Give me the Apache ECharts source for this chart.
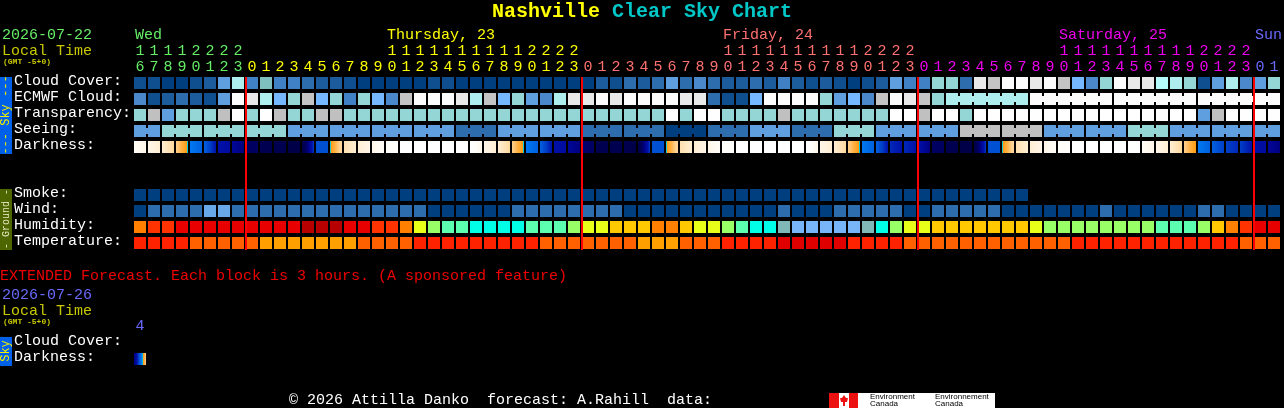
<!DOCTYPE html>
<html><head><meta charset="utf-8">
<style>html,body{margin:0;padding:0;background:#000}#c{width:1284px;height:408px}</style>
<script src="https://cdn.jsdelivr.net/npm/echarts@6/dist/echarts.min.js"></script>
</head><body><div id="c"></div>
<script>
const hours=[16,17,18,19,20,21,22,23,0,1,2,3,4,5,6,7,8,9,10,11,12,13,14,15,16,17,18,19,20,21,22,23,0,1,2,3,4,5,6,7,8,9,10,11,12,13,14,15,16,17,18,19,20,21,22,23,0,1,2,3,4,5,6,7,8,9,10,11,12,13,14,15,16,17,18,19,20,21,22,23,0,1];
const rowNames=['Cloud Cover:','ECMWF Cloud:','Transparency:','Seeing:','Darkness:','','','Smoke:','Wind:','Humidity:','Temperature:'];
const extRowNames=['Cloud Cover:','Darkness:'];
const extHours=[4];
const dayLabels=[[0,'Wed',0],[18,'Thursday, 23',1],[42,'Friday, 24',2],[66,'Saturday, 25',3],[80,'Sun',4]];
const midnightCols=[8,32,56,80];
const cloudCover=[5,5,0,0,5,10,30,60,20,40,20,20,15,10,10,5,0,0,0,0,0,5,5,0,0,0,0,0,0,0,0,0,0,10,5,15,10,15,30,15,25,15,10,10,15,10,20,10,5,10,5,0,5,10,30,20,20,50,50,15,80,70,100,100,80,100,70,35,25,50,100,80,80,65,60,50,5,30,60,25,30,50];
const ecmwfCloud=[25,5,10,15,10,5,30,100,80,60,35,50,70,35,50,20,50,35,25,70,100,100,100,80,60,70,35,50,30,25,60,80,80,100,80,100,100,100,100,80,80,15,5,5,35,100,100,100,100,50,30,35,25,70,100,80,70,50,60,60,60,60,60,60,100,100,100,100,100,100,100,100,100,100,100,100,100,100,100,100,100,100];
const ecmwfBlocks=[1,1,1,1,1,1,1,1,1,1,1,1,1,1,1,1,1,1,1,1,1,1,1,1,1,1,1,1,1,1,1,1,1,1,1,1,1,1,1,1,1,1,1,1,1,1,1,1,1,1,1,1,1,1,1,1,1,1,6,6,6,6];
const transparency=[2,1,3,2,2,2,1,0,2,0,1,2,2,1,1,2,2,2,2,2,2,2,2,2,2,2,2,2,2,2,2,2,2,2,2,2,2,2,0,2,0,0,2,2,2,2,1,2,2,2,2,2,2,2,0,0,1,0,0,2,0,0,0,0,0,0,0,0,0,0,0,0,0,0,0,0,3,1,0,0,0,0];
const seeing=[3,3,2,2,2,2,2,2,2,2,2,3,3,3,3,3,3,3,3,3,3,3,3,4,4,4,3,3,3,3,3,3,4,4,4,4,4,4,5,5,5,4,4,4,3,3,3,4,4,4,2,2,2,3,3,3,3,3,3,1,1,1,1,1,1,3,3,3,3,3,3,2,2,2,3,3,3,3,3,3,3,3];
const seeingBlocks=[2,3,3,3,3,3,3,3,3,3,3,3,3,3,3,3,3,3,3,3,3,3,3,3,3,3,3,2];
const darkStart=[1,2,3,5,8,9,11,12,14,15,15,16,16,9.5,7,4,3,2,1,0,0,0,0,0,0,2,3,5,8,9,11,12,13.5,15,15,15,16,9.5,7,4,3,2,1,0,0,0,0,0,0,2,3,5,8,9,10.5,10.5,11,14,15,16,16,9.5,7,4,3,2,1,0,0,0,0,0,1,2,3,5,8,9,10,10,11,12];
const darkEnd=[2,3,4.5,7,9,11,11.5,13,14,15,15,16,10,9.5,4.5,3,2,1,0.5,0,0,0,0,0,2,3,4.5,7,9,11,11.5,13,14,15,15,16,10,9.5,4.5,3,2,1,0.5,0,0,0,0,0,2,3,4.5,7,9,11,11,11,13,14,15,16,10,9.5,4.5,3,2,1,0.5,0,0,0,0,0,2,3,4.5,6.85,9,10,10.5,11,11.5,13];
const smoke=[0,0,0,0,0,0,0,0,0,0,0,0,0,0,0,0,0,0,0,0,0,0,0,0,0,0,0,0,0,0,0,0,0,0,0,0,0,0,0,0,0,0,0,0,0,0,0,0,0,0,0,0,0,0,0,0,0,0,0,0,0,0,0,0];
const wind=[3,8,8,8,8,14,14,8,8,8,8,8,8,8,8,8,8,8,8,8,8,3,3,3,3,3,3,8,8,8,8,8,8,8,8,3,3,3,3,3,3,3,3,3,3,3,8,3,3,3,8,8,8,8,8,3,3,8,8,8,8,8,3,3,3,3,3,3,3,8,3,3,3,3,3,3,8,8,3,3,3,3];
const humidity=[65,70,70,80,80,80,80,80,80,80,80,80,90,90,90,80,80,70,70,65,55,50,45,45,40,40,40,40,45,45,45,50,55,55,60,60,60,65,65,60,55,55,50,45,40,40,35,30,30,30,30,30,35,40,50,55,55,60,60,60,60,60,60,60,55,50,50,50,50,50,50,50,50,45,45,45,50,60,65,70,80,80];
const temperature=[31,31,31,31,27,27,27,27,27,24,24,24,24,24,24,24,27,27,27,27,31,31,31,31,31,31,31,31,31,27,27,27,27,27,27,27,24,24,24,27,27,27,31,31,31,31,35,35,35,35,35,31,31,31,31,27,27,27,27,27,27,27,27,27,27,27,27,31,31,31,31,31,31,31,31,31,31,31,31,27,27,27];
const extDarkStart=[13];
const extDarkEnd=[5];

const cloudColors={0:'#003f7f',5:'#0f4f8f',10:'#1c5c9c',15:'#2d6cad',20:'#4080c4',25:'#4a88cb',30:'#5f9fe0',35:'#75b8ff',40:'#7fbfbf',50:'#94d5d5',60:'#aeeeee',65:'#b4fafa',70:'#c4c4c4',80:'#e9e9e9',100:'#fcfcfc'};
const skyColors={0:'#fefefe',1:'#c0c0c0',2:'#94d5d5',3:'#5f9fe0',4:'#2d6cad',5:'#003f7f'};
const windColors={3:'#003f7f',8:'#2d6cad',14:'#68a8e8'};
const humidColors={30:'#78b4f8',35:'#80b8b8',40:'#00ffe6',45:'#5cffb0',50:'#99ff66',55:'#e8ff1a',60:'#ffc800',65:'#ff8000',70:'#ff3300',80:'#e80000',90:'#b80000'};
const tempColors={24:'#ffa000',27:'#ff6000',31:'#ff2200',35:'#e00000'};
const darkScale=[[0,'#ffffff'],[1,'#fffdf8'],[2,'#fff6e8'],[3,'#ffeed4'],[4,'#ffe0b0'],[5,'#ffd090'],[6,'#ffb040'],[6.85,'#ff9c10'],[6.9,'#00c8e0'],[7,'#00c8e0'],[8,'#0078f0'],[9,'#0060e0'],[10,'#0040c8'],[11,'#0010a8'],[12,'#000898'],[13,'#000080'],[14,'#000060'],[15,'#000050'],[16,'#000048']];
const dayColors=['#66ee66','#ffff00','#ff7070','#ee00ee','#6a6aff'];
const MONO='"Liberation Mono",monospace';

function darkAt(v){
  for(let i=0;i<darkScale.length-1;i++){
    const a=darkScale[i],b=darkScale[i+1];
    if(v>=a[0]&&v<=b[0])return echarts.color.lerp((v-a[0])/(b[0]-a[0]),[a[1],b[1]]);
  }
  return darkScale[darkScale.length-1][1];
}
function darkFill(l,r){
  if(l===r)return darkAt(l);
  const lo=Math.min(l,r),hi=Math.max(l,r);
  const vals=[lo,...darkScale.map(s=>s[0]).filter(v=>v>lo&&v<hi),hi];
  const stops=vals.map(v=>({offset:(v-l)/(r-l),color:darkAt(v)})).sort((a,b)=>a.offset-b.offset);
  return new echarts.graphic.LinearGradient(0,0,1,0,stops);
}
function joinsFrom(blocks){
  const out=[];
  blocks.forEach(n=>{for(let i=0;i<n;i++)out.push(i<n-1);});
  return out;
}
function cellSeries(row,values,colorOf,joins,xi,yi){
  return {
    type:'custom',xAxisIndex:xi||0,yAxisIndex:yi||0,silent:true,clip:false,z:2,
    data:values.map((v,i)=>[i,row,i]),
    renderItem(p,api){
      const i=api.value(2),c=api.coord([api.value(0),api.value(1)]);
      const kids=[{type:'rect',shape:{x:c[0]-6,y:c[1]-6,width:12,height:12},style:{fill:colorOf(i)}}];
      if(joins&&joins[i])kids.push({type:'rect',shape:{x:c[0]+6,y:c[1]-3,width:2,height:6},style:{fill:colorOf(i)}});
      return {type:'group',children:kids};
    }
  };
}
const series=[
  cellSeries(0,cloudCover,i=>cloudColors[cloudCover[i]]),
  cellSeries(1,ecmwfCloud,i=>cloudColors[ecmwfCloud[i]],joinsFrom(ecmwfBlocks)),
  cellSeries(2,transparency,i=>skyColors[transparency[i]]),
  cellSeries(3,seeing,i=>skyColors[seeing[i]],joinsFrom(seeingBlocks)),
  cellSeries(4,darkStart,i=>darkFill(darkStart[i],darkEnd[i])),
  cellSeries(7,smoke,i=>'#003f7f'),
  cellSeries(8,wind,i=>windColors[wind[i]]),
  cellSeries(9,humidity,i=>humidColors[humidity[i]]),
  cellSeries(10,temperature,i=>tempColors[temperature[i]]),
  cellSeries(1,extDarkStart,i=>darkFill(extDarkStart[i],extDarkEnd[i]),null,2,1),
  {type:'custom',xAxisIndex:0,yAxisIndex:0,silent:true,clip:false,z:5,
   data:midnightCols.map(c=>[c,0]),
   renderItem(p,api){
     const a=api.coord([api.value(0),0]),b=api.coord([api.value(0),10]);
     return {type:'rect',shape:{x:a[0]-7,y:a[1]-6,width:2,height:b[1]-a[1]+13},style:{fill:'#ff0000'}};
   }},
  {type:'custom',xAxisIndex:0,yAxisIndex:0,silent:true,clip:false,z:5,
   data:dayLabels.map(d=>[d[0],0,d[2]]),
   renderItem(p,api){
     const i=p.dataIndex,c=api.coord([api.value(0),0]);
     return {type:'text',x:c[0]-5,y:35,style:{text:dayLabels[i][1],fill:dayColors[dayLabels[i][2]],font:'15px '+MONO,align:'left',verticalAlign:'middle'}};
   }}
];
const hourAxis=(data,offset,colorFn,grid,margin)=>({type:'category',gridIndex:grid||0,position:'top',offset,data,boundaryGap:true,
  axisLine:{show:false},axisTick:{show:false},splitLine:{show:false},
  axisLabel:{show:true,interval:0,margin,hideOverlap:false,fontFamily:MONO,fontSize:15,color:colorFn}});
const dayOfCol=i=>i<8?0:i<32?1:i<56?2:i<80?3:4;
const yAxisFor=(data,grid)=>({type:'category',gridIndex:grid,inverse:true,data,
  axisLine:{show:false},axisTick:{show:false},splitLine:{show:false},
  axisLabel:{show:true,interval:0,align:'left',verticalAlign:'bottom',lineHeight:4,margin:119,fontFamily:MONO,fontSize:15,color:'#ffffff',hideOverlap:false}});
function txt(text,x,y,fill,font){
  return {type:'text',x,y,silent:true,style:{text,fill,font,align:'left',verticalAlign:'middle'}};
}
function vtxt(text,x,y,fill,font){
  return {type:'text',x,y,rotation:Math.PI/2,silent:true,style:{text,fill,font,align:'center',verticalAlign:'middle'}};
}
function rect(x,y,w,h,fill){return {type:'rect',silent:true,shape:{x,y,width:w,height:h},style:{fill}};}
const graphics=[
  rect(0,77,12,77,'#0060e8'),vtxt('--- Sky ---',6,115,'#f0f000','12px '+MONO),
  rect(0,189,12,61,'#4d6600'),vtxt('- Ground -',6,219,'#e8e8c0','10px '+MONO),
  rect(0,337,12,29,'#0060e8'),vtxt('Sky',6,351,'#f0f000','12px '+MONO),
  txt('2026-07-22',2,35,'#66ee66','15px '+MONO),
  txt('Local Time',2,51,'#c8c800','15px '+MONO),
  txt('(GMT -5+0)',3,62,'#c8c800','bold 8px '+MONO),
  txt('EXTENDED Forecast. Each block is 3 hours. (A sponsored feature)',0,276,'#ee0000','15px '+MONO),
  txt('2026-07-26',2,295,'#6a6aff','15px '+MONO),
  txt('Local Time',2,311,'#c8c800','15px '+MONO),
  txt('(GMT -5+0)',3,322,'#c8c800','bold 8px '+MONO),
  txt('© 2026 Attilla Danko  forecast: A.Rahill  data:',289,400,'#ffffff','15px '+MONO),
  rect(829,393,10,15,'#ee1111'),rect(839,393,10,15,'#ffffff'),rect(849,393,9,15,'#ee1111'),
  {type:'polygon',silent:true,shape:{points:[[844,395],[846,398],[848,398],[847,402],[845,402],[845,406],[843,406],[843,402],[841,402],[840,398],[842,398]]},style:{fill:'#ee1111'}},
  rect(858,393,137,15,'#ffffff'),
  txt('Environment',870,397,'#000000','8px "Liberation Sans",sans-serif'),
  txt('Canada',870,404,'#000000','8px "Liberation Sans",sans-serif'),
  txt('Environnement',935,397,'#000000','8px "Liberation Sans",sans-serif'),
  txt('Canada',935,404,'#000000','8px "Liberation Sans",sans-serif')
];
const option={
  animation:false,backgroundColor:'#000000',
  title:{show:true,left:492,top:2,padding:0,text:'{a|Nashville }{b|Clear Sky Chart}',
    textStyle:{rich:{a:{color:'#ffff00',fontFamily:MONO,fontWeight:'bold',fontSize:20},b:{color:'#00c8c8',fontFamily:MONO,fontWeight:'bold',fontSize:20}}}},
  grid:[{left:133,top:75,width:1148,height:176,containLabel:false},{left:133,top:335,width:14,height:32,containLabel:false}],
  xAxis:[
    hourAxis(hours.map(h=>String(h%10)),0,(v,i)=>dayColors[dayOfCol(i)],0,0),
    hourAxis(hours.map(h=>h>=10?String(Math.floor(h/10)):''),16,(v,i)=>dayColors[dayOfCol(i)],0,0),
    hourAxis(extHours.map(String),0,()=>'#6a6aff',1,1)
  ],
  yAxis:[yAxisFor(rowNames,0),yAxisFor(extRowNames,1)],
  graphic:graphics,
  series
};
const chart=echarts.init(document.getElementById('c'),null,{renderer:'canvas',devicePixelRatio:1});
chart.setOption(option);
</script></body></html>
